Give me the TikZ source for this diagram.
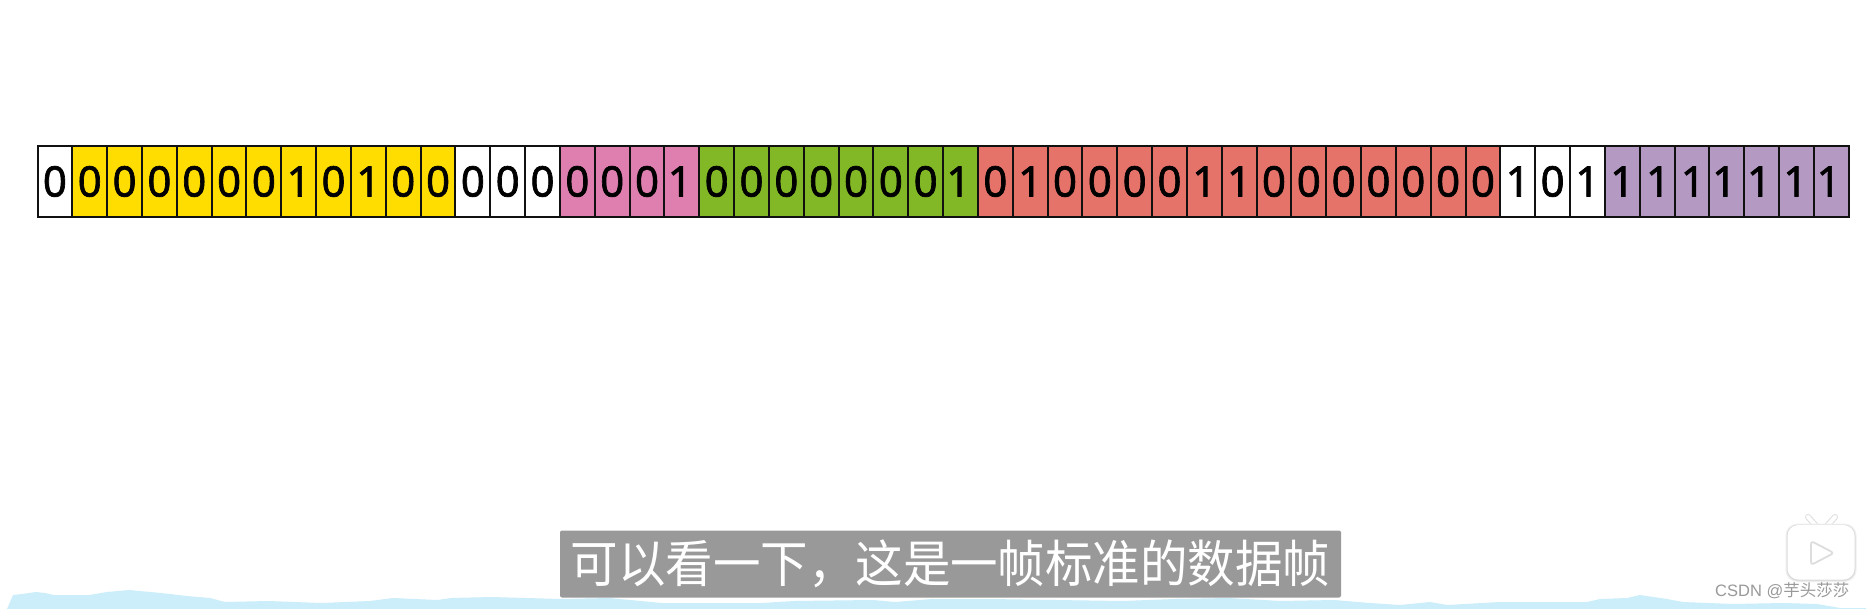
\documentclass[tikz,border=0pt]{standalone}
\usepackage{fontspec}
\setmainfont{Noto Sans}
\newfontfamily\digitfont[FakeBold=1.6]{Noto Sans}
\newfontfamily\cjkfont{Noto Sans CJK SC}
\newfontfamily\capfont[FakeStretch=0.94]{Noto Sans CJK SC}
\newfontfamily\arialfont{Liberation Sans}
\definecolor{cellY}{HTML}{FFDD00}
\definecolor{cellP}{HTML}{DF7FAF}
\definecolor{cellG}{HTML}{82B826}
\definecolor{cellR}{HTML}{E5736A}
\definecolor{cellV}{HTML}{B499C3}
\definecolor{cellW}{HTML}{FFFFFF}
\definecolor{lineK}{HTML}{111111}
\definecolor{waterB}{HTML}{CCEEFA}
\definecolor{capG}{HTML}{999999}
\definecolor{iconS}{HTML}{DDDDDD}
\definecolor{iconT}{HTML}{F0F0F0}
\tikzset{
  bitcell/.style={draw=lineK,line width=2pt,minimum width=34.83pt,minimum height=71pt,inner sep=0pt,outer sep=0pt,
    font=\digitfont\fontsize{42}{42}\selectfont,text=black,text height=30pt,text depth=0pt},
  caption/.style={fill=capG,rounded corners=2pt,minimum width=781pt,minimum height=67pt,inner sep=0pt,
    text=white,font=\capfont\fontsize{50.5}{51}\selectfont},
  mark text/.style={text=capG,inner sep=0pt,font=\arialfont\fontsize{16.5}{17}\selectfont},
  tvbody/.style={fill=white,rounded corners=11pt},
}
\begin{document}
\begin{tikzpicture}[x=1pt,y=-1pt]
\useasboundingbox (0,0) rectangle (1866,609);
\fill[white] (0,0) rectangle (1866,609);
% water band
\fill[waterB] (7,609) -- (13,595) -- (22,594) -- (36,592) -- (45,593) -- (54,595) -- (89,595) -- (107,592) -- (129,590)
 -- (161,593) -- (187,596) -- (210,598) -- (225,602) -- (268,601) -- (321,603) -- (370,601) -- (393,598) -- (437,600)
 -- (451,598) -- (491,597) -- (561,599) -- (609,598) -- (662,603) -- (762,603) -- (794,601) -- (873,600) -- (895,602)
 -- (932,599) -- (990,599) -- (1122,601) -- (1175,599) -- (1228,598) -- (1281,601) -- (1334,600) -- (1370,603)
 -- (1400,605) -- (1430,602) -- (1447,605) -- (1500,602) -- (1550,602) -- (1587,602) -- (1600,599) -- (1627,598)
 -- (1640,595) -- (1667,599) -- (1683,602) -- (1733,604) -- (1783,603) -- (1817,604) -- (1840,608) -- (1866,608)
 -- (1866,609) -- cycle;
% bit cells
\foreach \i/\c/\d in {0/W/0,1/Y/0,2/Y/0,3/Y/0,4/Y/0,5/Y/0,6/Y/0,7/Y/1,8/Y/0,9/Y/1,10/Y/0,11/Y/0,
  12/W/0,13/W/0,14/W/0,15/P/0,16/P/0,17/P/0,
  19/G/0,20/G/0,21/G/0,22/G/0,23/G/0,24/G/0,25/G/0,
  27/R/0,28/R/1,29/R/0,30/R/0,31/R/0,32/R/0,33/R/1,34/R/1,35/R/0,36/R/0,37/R/0,38/R/0,39/R/0,40/R/0,41/R/0,
  42/W/1,43/W/0,44/W/1}
{
  \node[bitcell,fill=cell\c] (cell\i) at ({37.5+34.83*(\i+0.5)},181.5) {\d};
}
% cells whose digit sits off centre
\foreach \i/\c/\o in {18/P/-4,26/G/-4,45/V/0,46/V/2,47/V/2,48/V/-5,49/V/-5,50/V/-2,51/V/-5}
{
  \node[bitcell,fill=cell\c] (cell\i) at ({37.5+34.83*(\i+0.5)},181.5) {\hspace*{\o pt}1};
}
% caption
\node[caption] (cap) at (950.5,564) {可以看一下\char"FF0C 这是一帧标准的数据帧};
% logo
\draw[iconS,line width=6pt,line cap=round] (1808,517) -- (1817,527);
\draw[iconS,line width=6pt,line cap=round] (1835,517) -- (1826,527);
\draw[white,line width=4pt,line cap=round] (1808,517) -- (1817,527);
\draw[white,line width=4pt,line cap=round] (1835,517) -- (1826,527);
\fill[iconT,rounded corners=12pt] (1785.5,523.5) rectangle (1856.5,582);
\fill[iconS,rounded corners=11.5pt] (1786.5,524.5) rectangle (1855.5,581);
\fill[tvbody] (1787.5,525) rectangle (1854.5,579.5);
\draw[fill=white,draw=iconS,line width=1.8pt,rounded corners=3pt,line join=round] (1811,541) -- (1834,553) -- (1811,565) -- cycle;
% watermark
\node[mark text,anchor=west] (wm) at (1715,591) {CSDN @{\cjkfont 芋头莎莎}};
\end{tikzpicture}
\end{document}
